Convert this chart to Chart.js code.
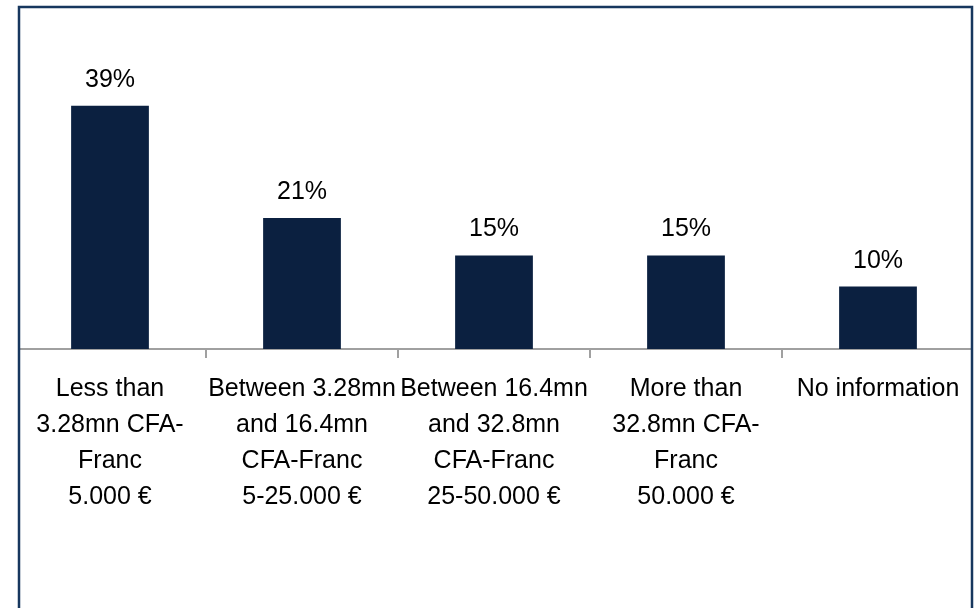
<!DOCTYPE html>
<html>
<head>
<meta charset="utf-8">
<script src="https://cdn.jsdelivr.net/npm/chart.js@4/dist/chart.umd.min.js"></script>
<style>
  html, body { margin: 0; padding: 0; background: #fff; }
  #wrap { width: 975px; height: 608px; position: relative; }
</style>
</head>
<body>
<div id="wrap"><canvas id="chart"></canvas></div>
<script>
const categories = [
    ['Less than', '3.28mn CFA-', 'Franc', '5.000 €'],
    ['Between 3.28mn', 'and 16.4mn', 'CFA-Franc', '5-25.000 €'],
    ['Between 16.4mn', 'and 32.8mn', 'CFA-Franc', '25-50.000 €'],
    ['More than', '32.8mn CFA-', 'Franc', '50.000 €'],
    ['No information']
];
const shares = [39, 21, 15, 15, 10];

const barColor = '#0b2040';
const frameColor = '#17375e';
const font = "'Liberation Sans', Arial, sans-serif";

// value labels above the bars + outer frame
const extras = {
    id: 'extras',
    afterDatasetsDraw(chart) {
        const ctx = chart.ctx;
        const meta = chart.getDatasetMeta(0);
        ctx.save();
        ctx.fillStyle = '#000';
        ctx.font = '25px ' + font;
        ctx.textAlign = 'center';
        ctx.textBaseline = 'alphabetic';
        meta.data.forEach((bar, i) => {
            ctx.fillText(shares[i] + '%', bar.x, bar.y - 19);
        });
        ctx.restore();
    },
    afterDraw(chart) {
        const ctx = chart.ctx;
        ctx.save();
        // axis line stops at the frame
        ctx.clearRect(0, 0, 18, chart.height);
        ctx.clearRect(973, 0, 10, chart.height);
        ctx.strokeStyle = frameColor;
        ctx.lineWidth = 2.5;
        ctx.beginPath();
        ctx.moveTo(19, 620);
        ctx.lineTo(19, 7);
        ctx.lineTo(972, 7);
        ctx.lineTo(972, 620);
        ctx.stroke();
        ctx.restore();
    }
};

new Chart(document.getElementById('chart').getContext('2d'), {
    type: 'bar',
    data: {
        labels: categories,
        datasets: [{
            data: shares,
            backgroundColor: barColor,
            barPercentage: 0.81,
            categoryPercentage: 0.5
        }]
    },
    options: {
        responsive: true,
        maintainAspectRatio: false,
        animation: false,
        layout: { padding: { left: 14, right: 1, top: 37, bottom: 0 } },
        plugins: {
            legend: { display: false },
            tooltip: { enabled: false }
        },
        scales: {
            x: {
                afterFit: scale => { scale.height = 259; },
                border: { display: true, color: '#a0a0a0', width: 2 },
                grid: {
                    drawOnChartArea: false,
                    drawTicks: true,
                    tickLength: 9,
                    lineWidth: 2,
                    color: c => (c.index === 0 || c.index === categories.length) ? 'rgba(0,0,0,0)' : '#a0a0a0'
                },
                ticks: {
                    color: '#000',
                    padding: 13,
                    maxRotation: 0,
                    autoSkip: false,
                    font: { family: font, size: 25, lineHeight: 1.44 }
                }
            },
            y: {
                display: false,
                min: 0,
                max: 50
            }
        }
    },
    plugins: [extras]
});
</script>
</body>
</html>
